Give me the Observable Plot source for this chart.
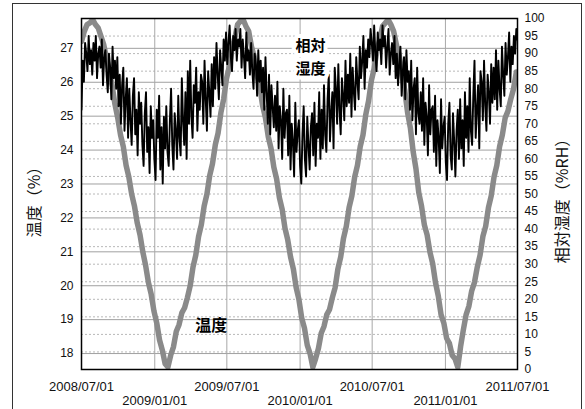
<!DOCTYPE html>
<html><head><meta charset="utf-8">
<script src="https://cdn.jsdelivr.net/npm/d3@7"></script>
<script src="https://cdn.jsdelivr.net/npm/@observablehq/plot@0.6"></script>
<style>
html,body{margin:0;padding:0;background:#fff;overflow:hidden;}
#wrap{position:relative;width:585px;height:409px;overflow:hidden;}
#box{position:absolute;left:12px;top:3px;width:570px;height:430px;border:1.5px solid #333;box-sizing:border-box;}
#chart{position:absolute;left:0;top:0;}
</style></head><body>
<div id="wrap"><div id="box"></div><div id="chart"></div></div>
<script>
// ---- data ----
const startDate = "2008-07-01";
const endDate = "2011-07-01";
const tempStepDays = 7;   // weekly readings of temperature
const humStepDays = 3;    // 3-day readings of relative humidity

// temperature (°C, left axis)
const tempValues = [
 27.2,27.5,27.7,27.75,27.85,27.7,27.6,27.35,27.1,26.7,26.3,25.9,25.35,24.95,24.45,24.1,23.55,23.2,22.7,22.35,
 21.85,21.5,21.0,20.6,20.1,19.75,19.25,18.9,18.4,18.1,17.7,17.6,17.95,18.2,18.65,18.85,19.2,19.35,19.65,20.0,
 20.55,20.9,21.45,21.8,22.35,22.7,23.25,23.6,24.15,24.5,25.1,25.5,26.1,
 26.45,27.0,27.3,27.7,27.8,27.85,27.65,27.5,27.05,26.75,26.2,25.85,25.3,24.95,24.4,24.05,23.5,23.15,22.6,22.25,
 21.7,21.35,20.85,20.5,19.95,19.6,19.05,18.75,18.25,18.0,17.6,17.85,18.15,18.6,18.8,19.15,19.3,19.65,19.95,20.5,
 20.85,21.4,21.75,22.3,22.65,23.2,23.55,24.1,24.45,25.05,25.45,26.05,26.4,26.95,27.25,27.65,27.75,
 27.85,27.7,27.5,27.1,26.8,26.2,25.75,25.1,24.65,23.95,23.45,22.75,22.35,21.8,21.5,21.0,20.65,20.1,19.7,19.15,
 18.9,18.45,18.3,17.95,17.85,17.6,18.2,18.7,19.15,19.4,19.85,20.1,20.55,20.9,21.45,21.75,22.3,22.65,23.2,23.55,
 24.1,24.45,24.95,25.15,25.5,25.8,26.3
];

// relative humidity (%RH, right axis)
const humValues = [
 // 2008 Jul - Dec
 74,88,82,93,90,85,95,87,91,84,
 93,88,95,83,90,92,86,94,81,89,
 91,84,79,90,86,77,92,83,88,80,
 89,75,84,70,81,86,68,77,83,66,
 80,71,64,78,83,67,74,61,79,70,
 76,64,58,73,79,62,69,56,75,66,
 // 2009 Jan - Dec
 71,60,54,74,66,78,57,69,53,72,63,
 75,62,58,71,80,64,57,73,68,60,
 78,66,61,83,71,64,79,60,85,70,
 88,72,66,81,76,86,68,79,74,84,
 82,70,88,77,68,85,79,72,87,75,
 89,80,93,84,77,91,86,81,94,88,
 96,87,93,98,89,85,95,91,97,88,94,
 92,97,86,94,89,83,96,88,91,84,
 93,85,80,90,87,78,91,82,88,79,
 86,74,89,79,70,84,67,81,75,69,
 78,68,82,63,75,71,60,80,66,73,
 74,61,78,57,70,65,55,76,62,68,
 // 2010 Jan - Dec
 71,58,53,67,75,60,55,72,64,57,69,
 73,61,76,58,70,66,79,60,74,63,
 81,67,62,77,84,65,73,79,63,86,
 80,70,87,74,67,83,78,71,88,75,
 84,76,90,72,86,79,74,89,82,77,
 92,83,88,95,80,91,86,94,89,97,
 93,88,98,90,85,96,91,94,87,98,92,
 95,86,92,97,84,90,93,87,95,83,
 90,81,87,92,78,85,89,77,91,82,
 85,74,88,71,80,83,67,86,73,70,
 79,68,83,64,76,72,61,81,67,74,
 75,62,78,58,71,66,56,77,63,69,
 // 2011 Jan - Jun
 72,59,54,70,76,61,57,73,65,55,68,
 74,60,77,63,71,58,79,66,75,62,
 83,68,64,78,88,66,74,81,63,85,
 82,71,88,75,68,84,79,70,87,76,
 86,77,91,74,88,80,75,92,84,78,
 93,84,89,96,82,92,87,95,90,97,
 94
];

const tempTicks = [18,19,20,21,22,23,24,25,26,27];
const humTicks = [0,5,10,15,20,25,30,35,40,45,50,55,60,65,70,75,80,85,90,95,100];
const julyTicks = ["2008-07-01","2009-07-01","2010-07-01","2011-07-01"];
const janTicks = ["2009-01-01","2010-01-01","2011-01-01"];
const tempAxisMin = 17.53, tempAxisMax = 27.88; // left axis extent

const leftTitle = "温度（%）";
const rightTitle = "相対湿度（%RH）";
const humLabels = [
  {date: "2010-01-27", hum: 92.1, text: "相対"},
  {date: "2010-01-27", hum: 85.7, text: "湿度"}
];
const tempLabel = {date: "2009-05-23", hum: 12.5, text: "温度"};

// ---- build ----
const parse = d3.utcParse("%Y-%m-%d");
const t0 = parse(startDate);
const toHum = t => (t - tempAxisMin) / (tempAxisMax - tempAxisMin) * 100;
const toTemp = h => h / 100 * (tempAxisMax - tempAxisMin) + tempAxisMin;
const fmt = d3.utcFormat("%Y/%m/%d");

const tempData = tempValues.map((v, i) => ({date: d3.utcDay.offset(t0, i * tempStepDays), y: toHum(v)}));
const humData = humValues.map((v, i) => ({date: d3.utcDay.offset(t0, i * humStepDays), y: v}));
const latin = "'Liberation Sans', Arial, sans-serif";
const cjk = "'Noto Sans CJK JP', sans-serif";

const plot = Plot.plot({
  width: 585, height: 409,
  marginLeft: 81, marginRight: 68, marginTop: 18, marginBottom: 40,
  style: {fontFamily: latin, background: "transparent", overflow: "visible", color: "#111"},
  x: {type: "utc", domain: [t0, parse(endDate)]},
  y: {domain: [0, 100]},
  marks: [
    Plot.ruleY(humTicks.filter(d => d > 0 && d < 100), {stroke: "#b8b8b8", strokeDasharray: "2,2", strokeWidth: 1}),
    Plot.ruleY(tempTicks.map(toHum), {stroke: "#a0a0a0", strokeWidth: 1}),
    Plot.ruleX(julyTicks.concat(janTicks).map(parse).filter(d => +d > +t0 && +d < +parse(endDate)), {stroke: "#a8a8a8", strokeWidth: 1}),
    Plot.line(tempData, {x: "date", y: "y", stroke: "#8a8a8a", strokeWidth: 5.5, clip: true}),
    Plot.line(humData, {x: "date", y: "y", stroke: "#000", strokeWidth: 1.9, clip: true}),
    Plot.frame({stroke: "#000", strokeWidth: 1.5}),
    Plot.axisY(humTicks, {anchor: "right", tickSize: 0, tickPadding: 7, fontSize: 12, label: null}),
    Plot.axisY(tempTicks.map(toHum), {anchor: "left", tickSize: 0, tickPadding: 8, fontSize: 12, label: null,
      tickFormat: d => String(Math.round(toTemp(d)))}),
    Plot.axisX(julyTicks.map(parse), {anchor: "bottom", tickSize: 0, tickPadding: 12, fontSize: 13, label: null, tickFormat: fmt}),
    Plot.axisX(janTicks.map(parse), {anchor: "bottom", tickSize: 0, tickPadding: 26, fontSize: 13, label: null, tickFormat: fmt}),
    Plot.text([leftTitle], {frameAnchor: "left", textAnchor: "middle", dx: -47, dy: 4, rotate: -90, fontSize: 16, fontFamily: cjk, fill: "#111"}),
    Plot.text([rightTitle], {frameAnchor: "right", textAnchor: "middle", dx: 45, dy: 3, rotate: -90, fontSize: 16, fontFamily: cjk, fill: "#111"}),
    Plot.text(humLabels, {x: d => parse(d.date), y: "hum", text: "text", fontSize: 15, fontWeight: "bold", fontFamily: cjk,
      fill: "#000", stroke: "white", strokeWidth: 8}),
    Plot.text([tempLabel], {x: d => parse(d.date), y: "hum", text: "text", fontSize: 16, fontWeight: "bold", fontFamily: cjk, fill: "#000"})
  ]
});
document.getElementById("chart").appendChild(plot);
</script>
</body></html>
